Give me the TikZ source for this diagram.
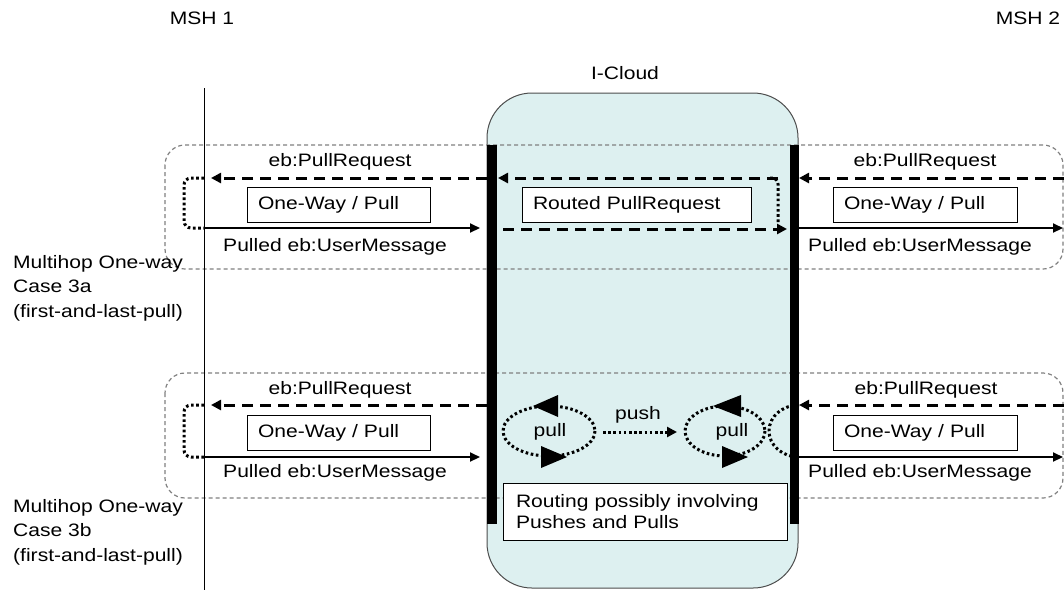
\documentclass[tikz,border=0pt]{standalone}
\usepackage{fontspec}
\setmainfont{Liberation Sans}[FakeStretch=1.17]
\usetikzlibrary{arrows.meta}
\definecolor{cloudfill}{HTML}{DDF0F0}
\definecolor{grpgray}{HTML}{808080}
\begin{document}
\begin{tikzpicture}[x=1pt,y=-1pt,
  font=\fontsize{18}{22}\selectfont,
  lbl/.style={inner sep=0pt},
  msgbox/.style={draw, fill=white, line width=1pt, inner ysep=0pt, inner xsep=11pt, minimum height=35pt, align=left},
  grp/.style={draw=grpgray, line width=1.2pt, dash pattern=on 4pt off 3pt, rounded corners=20pt},
  dsharrow/.style={line width=3pt, dash pattern=on 11pt off 7pt, -{Triangle[length=10pt,width=10pt]}},
  solarrow/.style={line width=2pt, -{Triangle[length=10pt,width=9pt]}},
  dotline/.style={line width=3pt, dash pattern=on 2.6pt off 2.6pt},
  dotarrow/.style={line width=3pt, dash pattern=on 2.6pt off 2.6pt, -{Triangle[length=10pt,width=10pt]}},
  bigtip/.style={fill=black}
]
\useasboundingbox (0,0) rectangle (1064,590);

% I-Cloud
\draw[fill=cloudfill, draw=black!70, line width=1pt, rounded corners=45pt] (487,93) rectangle (798,588);
\node[lbl] (cloudlbl) at (625,73) {I-Cloud};

% top labels
\node[lbl] (msh1) at (202,18) {MSH 1};
\node[lbl] (msh2) at (1028,18) {MSH 2};

% group frames
\draw[grp] (165,145) rectangle (1063,269);
\draw[grp] (165,373) rectangle (1063,498);

% MSH1 lifeline
\coordinate (lifetop) at (204,88);
\coordinate (lifebot) at (204,590);
\draw[line width=1pt] (lifetop) -- (lifebot);

% bars
\fill (487,145) rectangle (497,524);
\fill (790,145) rectangle (799,524);

% case labels
\node[lbl, anchor=west, align=left, font=\fontsize{18}{24.5}\selectfont] (case3a) at (13,288) {Multihop One-way\\Case 3a\\(first-and-last-pull)};
\node[lbl, anchor=west, align=left, font=\fontsize{18}{24.5}\selectfont] (case3b) at (13,532) {Multihop One-way\\Case 3b\\(first-and-last-pull)};

% ===== Case 3a =====
\coordinate (a1s) at (487,178);  \coordinate (a1e) at (211,178);
\coordinate (a1b) at (204,178);
\coordinate (a2s) at (204,228);  \coordinate (a2e) at (480,228);
\draw[dsharrow] (a1s) -- (a1e);
\draw[dotline, rounded corners=7pt] (a1b) -- (184,178) -- (184,228) -- (a2s);
\draw[solarrow] (a2s) -- (a2e);
\node[lbl] (a1lbl) at (340,162) {eb:PullRequest};
\node[msgbox, text width=161pt] (a1box) at (338.5,204.5) {One-Way / Pull};
\node[lbl] (a2lbl) at (335,247) {Pulled eb:UserMessage};

\coordinate (m1s) at (778,178); \coordinate (m1e) at (498,178);
\coordinate (m2s) at (503,229); \coordinate (m2e) at (787,229);
\draw[dsharrow] (m1s) -- (m1e);
\draw[dotline, rounded corners=6pt] (770,178) -- (m1s) -- (778,222);
\draw[dsharrow] (m2s) -- (m2e);
\node[msgbox, text width=207pt] (mbox) at (636.5,204.5) {Routed PullRequest};

\coordinate (r1s) at (1064,178); \coordinate (r1e) at (799,178);
\coordinate (r2s) at (799,228);  \coordinate (r2e) at (1063,228);
\draw[dsharrow] (r1s) -- (r1e);
\draw[solarrow] (r2s) -- (r2e);
\node[lbl] (r1lbl) at (925,162) {eb:PullRequest};
\node[msgbox, text width=162pt] (r1box) at (925,204.5) {One-Way / Pull};
\node[lbl] (r2lbl) at (920,247) {Pulled eb:UserMessage};

% ===== Case 3b =====
\coordinate (b1s) at (487,405);  \coordinate (b1e) at (211,405);
\coordinate (b1b) at (204,405);
\coordinate (b2s) at (204,457);  \coordinate (b2e) at (480,457);
\draw[dsharrow] (b1s) -- (b1e);
\draw[dotline, rounded corners=7pt] (b1b) -- (184,405) -- (184,457) -- (b2s);
\draw[solarrow] (b2s) -- (b2e);
\node[lbl] (b1lbl) at (340,390) {eb:PullRequest};
\node[msgbox, text width=161pt] (b1box) at (338.5,432.5) {One-Way / Pull};
\node[lbl] (b2lbl) at (335,473) {Pulled eb:UserMessage};

\coordinate (s1s) at (1064,405); \coordinate (s1e) at (799,405);
\coordinate (s2s) at (799,457);  \coordinate (s2e) at (1063,457);
\draw[dsharrow] (s1s) -- (s1e);
\draw[solarrow] (s2s) -- (s2e);
\node[lbl] (s1lbl) at (926,390) {eb:PullRequest};
\node[msgbox, text width=162pt] (s1box) at (925,432.5) {One-Way / Pull};
\node[lbl] (s2lbl) at (920,473) {Pulled eb:UserMessage};

% pull loops
\coordinate (loopL) at (549,431);
\coordinate (loopR) at (725,431);
\draw[dotline] (loopL) ellipse[x radius=46, y radius=25];
\draw[dotline] (loopR) ellipse[x radius=40, y radius=25];
\fill[bigtip] (533,406) -- (558,395) -- (558,417) -- cycle;
\fill[bigtip] (567,457) -- (541,446) -- (541,468) -- cycle;
\fill[bigtip] (713,406) -- (741,395) -- (741,417) -- cycle;
\fill[bigtip] (748,457) -- (722,446) -- (722,468) -- cycle;
\node[lbl] (pullL) at (550,432) {pull};
\node[lbl] (pullR) at (732,432) {pull};
\node[lbl] (pushlbl) at (638,415) {push};
\coordinate (pushs) at (603,432); \coordinate (pushe) at (677,432);
\draw[dotarrow] (pushs) -- (pushe);

% right bracket in cloud
\draw[dotline] (s1e) arc[start angle=270, end angle=90, x radius=30, y radius=26];

% routing box
\node[draw, fill=white, line width=1pt, inner xsep=13pt, inner ysep=0pt,
      minimum height=57pt, text width=258pt, align=left,
      font=\fontsize{18}{21}\selectfont] (routebox) at (645,511.5)
  {Routing possibly involving\\Pushes and Pulls};

\end{tikzpicture}
\end{document}
